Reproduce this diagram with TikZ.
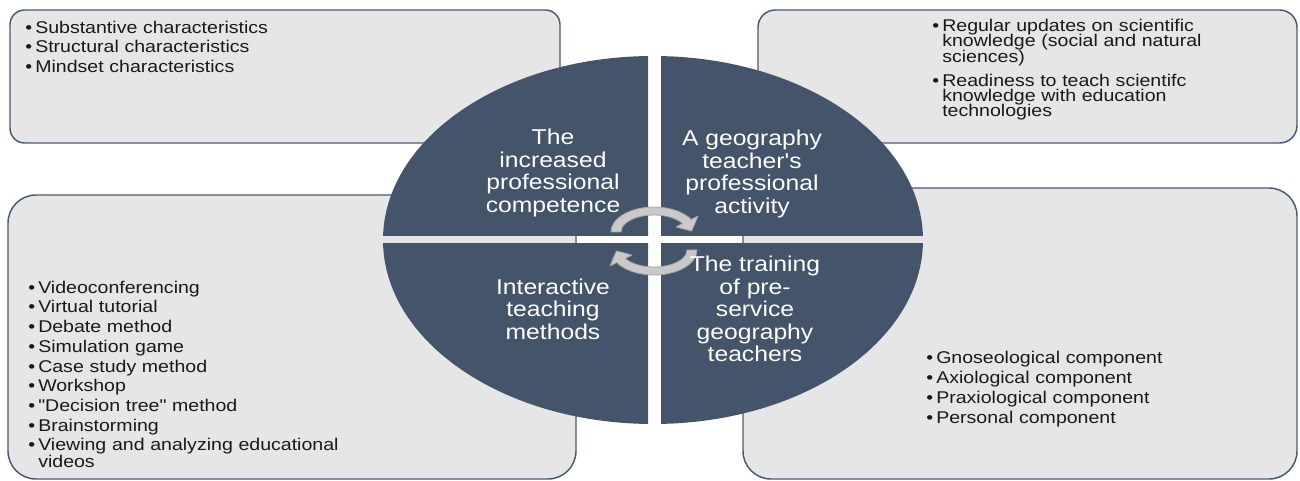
\documentclass[tikz,border=0pt]{standalone}
\usepackage{fontspec}
\setmainfont{Liberation Sans}[FakeStretch=1.15, Ligatures=TeXOff]
\definecolor{slate}{HTML}{44546A}
\definecolor{boxfill}{HTML}{E6E6E6}
\definecolor{boxline}{HTML}{4A5A70}
\definecolor{arrfill}{HTML}{C9C9C9}
\definecolor{arrline}{HTML}{A5A5A5}
\newcommand\bitem[1]{\noindent\hangindent=7.5pt\hangafter=1\makebox[7.5pt][l]{•}#1\par}
\tikzset{
  infobox/.style={draw=boxline, line width=1.1pt, fill=boxfill},
  quad/.style={fill=slate},
  quadtext/.style={text=white, align=center, inner sep=0pt,
    font=\fontsize{16.1}{16.9}\selectfont},
  listtext/.style={anchor=north west, inner sep=0pt, text width=300pt, align=left, text=black!90},
  cyc/.style={fill=arrfill, draw=arrline, line width=0.6pt, line join=round}
}
\begin{document}
\begin{tikzpicture}[x=0.75pt,y=-0.75pt]
\useasboundingbox (0,0) rectangle (1300,481);
% outer boxes
\draw[infobox, rounded corners=11pt] (10,10) rectangle (560,143);
\draw[infobox, rounded corners=13pt] (758,10) rectangle (1297,143);
\draw[infobox, rounded corners=21pt] (8,195) rectangle (576,479);
\draw[infobox, rounded corners=21pt] (743,188) rectangle (1297,479);
% central ellipse split into quadrants
\begin{scope}\clip (380,50) rectangle (648,236);
  \fill[quad] (653,240) ellipse [x radius=270, y radius=184];\end{scope}
\begin{scope}\clip (661,50) rectangle (930,236);
  \fill[quad] (653,240) ellipse [x radius=270, y radius=184];\end{scope}
\begin{scope}\clip (380,244) rectangle (648,430);
  \fill[quad] (653,240) ellipse [x radius=270, y radius=184];\end{scope}
\begin{scope}\clip (661,244) rectangle (930,430);
  \fill[quad] (653,240) ellipse [x radius=270, y radius=184];\end{scope}
% circular arrows
\draw[cyc] (611,232) arc[start angle=180, end angle=330, x radius=43, y radius=25]
  -- (698,216) -- (691.6,231) -- (676,227) -- (682.6,223.5)
  arc[start angle=330, end angle=180, x radius=33, y radius=17] -- cycle;
\begin{scope}[rotate around={180:(654,241)}]
\draw[cyc] (611,232) arc[start angle=180, end angle=330, x radius=43, y radius=25]
  -- (698,216) -- (691.6,231) -- (676,227) -- (682.6,223.5)
  arc[start angle=330, end angle=180, x radius=33, y radius=17] -- cycle;
\end{scope}
% quadrant texts
\node[quadtext] (q1) at (553,173) {The\\increased\\professional\\competence};
\node[quadtext] (q2) at (752,174) {A geography\\teacher's\\professional\\activity};
\node[quadtext] (q3) at (553,309) {Interactive\\teaching\\methods};
\node[quadtext] (q4) at (755,309) {The training\\of pre-\\service\\geography\\teachers};
% lists
\node[listtext, font={\fontsize{12.75}{14.6}\selectfont\setlength\parskip{0pt}}] (l1) at (25,20.5) {%
\bitem{Substantive characteristics}
\bitem{Structural characteristics}
\bitem{Mindset characteristics}};
\node[listtext, font={\fontsize{12.75}{11.6}\selectfont\setlength\parskip{6.4pt}\lineskiplimit=-20pt}] (l2) at (932,18.5) {%
\bitem{Regular updates on scientific\newline knowledge (social and natural\newline sciences)}
\bitem{Readiness to teach scientifc\newline knowledge with education\newline technologies}};
\node[listtext, font={\fontsize{12.75}{12.75}\selectfont\setlength\parskip{2.05pt}\lineskiplimit=-20pt}] (l3) at (28,280.5) {%
\bitem{Videoconferencing}
\bitem{Virtual tutorial}
\bitem{Debate method}
\bitem{Simulation game}
\bitem{Case study method}
\bitem{Workshop}
\bitem{"Decision tree" method}
\bitem{Brainstorming}
\bitem{Viewing and analyzing educational\newline videos}};
\node[listtext, font={\fontsize{12.75}{15}\selectfont\setlength\parskip{0pt}}] (l4) at (926,350.5) {%
\bitem{Gnoseological component}
\bitem{Axiological component}
\bitem{Praxiological component}
\bitem{Personal component}};
\end{tikzpicture}
\end{document}
